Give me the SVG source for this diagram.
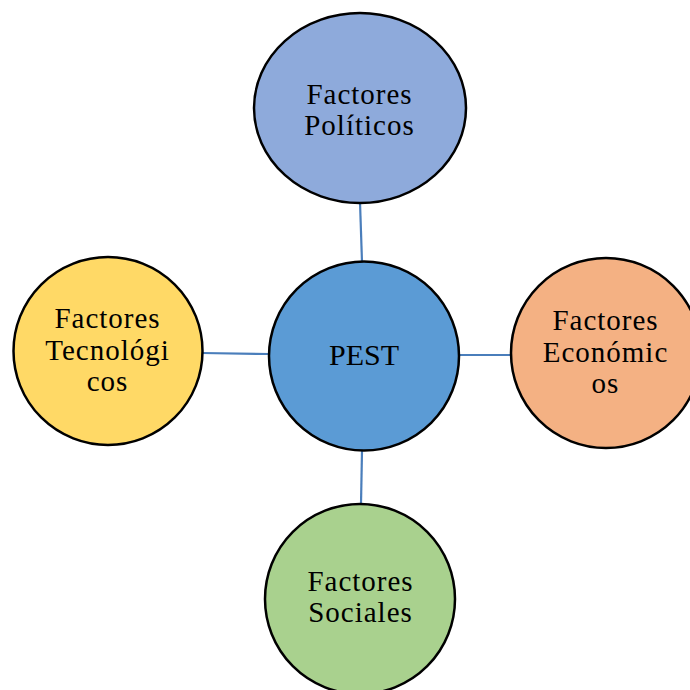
<svg xmlns="http://www.w3.org/2000/svg" width="690" height="690" viewBox="0 0 690 690">
  <style>
    .node { stroke: #000; stroke-width: 2.5; }
    .link { stroke: #4a7ebb; stroke-width: 2.2; fill: none; }
    text { font-family: "Liberation Serif", "Times New Roman", serif; font-size: 29px; letter-spacing: 1px; fill: #000; text-anchor: middle; }
    text.hub { font-size: 30px; letter-spacing: 0; }
  </style>
  <rect width="690" height="690" fill="#fff"/>

  <g id="connectors">
    <line class="link" x1="360" y1="202" x2="362" y2="262"/>
    <line class="link" x1="202" y1="353" x2="269" y2="354"/>
    <line class="link" x1="459" y1="355" x2="511" y2="355"/>
    <line class="link" x1="362" y1="451" x2="361" y2="504"/>
  </g>

  <g id="politicos">
    <ellipse class="node" cx="360" cy="108" rx="106" ry="95" fill="#8eaadb"/>
    <text x="359.5" y="104">Factores</text>
    <text x="359.5" y="135">Políticos</text>
  </g>

  <g id="tecnologicos">
    <ellipse class="node" cx="108" cy="351" rx="94.5" ry="94" fill="#ffd966"/>
    <text x="107.5" y="328">Factores</text>
    <text x="107.5" y="360">Tecnológi</text>
    <text x="107.5" y="391">cos</text>
  </g>

  <g id="pest">
    <ellipse class="node" cx="364" cy="356" rx="95" ry="94.5" fill="#5b9bd5"/>
    <text class="hub" x="364" y="365">PEST</text>
  </g>

  <g id="economicos">
    <ellipse class="node" cx="606" cy="353" rx="95" ry="95" fill="#f4b183"/>
    <text x="605.5" y="330">Factores</text>
    <text x="605.5" y="362">Económic</text>
    <text x="605.5" y="393">os</text>
  </g>

  <g id="sociales">
    <ellipse class="node" cx="360" cy="599" rx="95" ry="95" fill="#a9d18e"/>
    <text x="360.5" y="591">Factores</text>
    <text x="360.5" y="622">Sociales</text>
  </g>
</svg>
